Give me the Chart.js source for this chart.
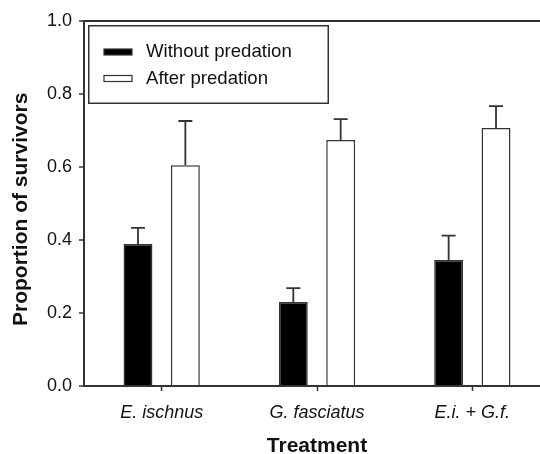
<!DOCTYPE html>
<html><head><meta charset="utf-8">
<script src="https://cdn.jsdelivr.net/npm/chart.js@4/dist/chart.umd.min.js"></script>
<style>
html,body{margin:0;padding:0;background:#fff;overflow:hidden;}
#wrap{width:540px;height:454px;overflow:hidden;position:relative;background:#fff;}
canvas{display:block;}
</style></head><body>
<div id="wrap"><canvas id="c" width="560" height="470"></canvas></div>
<script>
// ---- data ----
const categories = ['E. ischnus', 'G. fasciatus', 'E.i. + G.f.'];
const seriesNames = ['Without predation', 'After predation'];
const withoutPredation = [0.389, 0.230, 0.345];
const afterPredation = [0.605, 0.674, 0.707];
const withoutErr = [0.044, 0.038, 0.067];
const afterErr = [0.121, 0.057, 0.060];
const yTicks = [0.0, 0.2, 0.4, 0.6, 0.8, 1.0];
const xTitle = 'Treatment';
const yTitle = 'Proportion of survivors  ';

// ---- style ----
const FONT = "'Liberation Sans', Arial, Helvetica, sans-serif";
const INK = '#111';
const LINE = '#333';
const errorArrays = [withoutErr, afterErr];

const errorBars = {
  id: 'errorBars',
  afterDatasetsDraw(chart) {
    const ctx = chart.ctx, ys = chart.scales.y;
    chart.data.datasets.forEach((ds, i) => {
      const meta = chart.getDatasetMeta(i);
      meta.data.forEach((bar, j) => {
        const top = ys.getPixelForValue(ds.data[j] + errorArrays[i][j]);
        ctx.save();
        ctx.strokeStyle = LINE; ctx.lineWidth = 1.8;
        ctx.beginPath();
        ctx.moveTo(bar.x, bar.y); ctx.lineTo(bar.x, top);
        ctx.moveTo(bar.x - 7, top); ctx.lineTo(bar.x + 7, top);
        ctx.stroke();
        ctx.restore();
      });
    });
  }
};

const boxLegend = {
  id: 'boxLegend',
  afterDraw(chart) {
    const {ctx, chartArea} = chart;
    const x0 = chartArea.left + 4, y0 = chartArea.top + 4, w = 241, h = 79;
    ctx.save();
    ctx.fillStyle = '#fff'; ctx.fillRect(x0, y0, w, h);
    ctx.strokeStyle = LINE; ctx.lineWidth = 1.5;
    ctx.strokeRect(x0 + 0.75, y0 + 0.75, w - 1.5, h - 1.5);
    chart.data.datasets.forEach((ds, i) => {
      const cy = y0 + 27 + i * 26.5;
      ctx.fillStyle = ds.backgroundColor;
      ctx.fillRect(x0 + 16, cy - 3, 28, 6);
      ctx.strokeStyle = ds.borderColor; ctx.lineWidth = 1.2;
      ctx.strokeRect(x0 + 16, cy - 3, 28, 6);
      ctx.fillStyle = INK;
      ctx.font = '18.6px ' + FONT;
      ctx.textBaseline = 'middle';
      ctx.textAlign = 'left';
      ctx.fillText(ds.label, x0 + 58, cy);
    });
    ctx.restore();
  }
};

new Chart(document.getElementById('c'), {
  type: 'bar',
  data: {
    labels: categories,
    datasets: [
      {label: seriesNames[0], data: withoutPredation, backgroundColor: '#000', borderColor: LINE,
       borderWidth: 1.5, categoryPercentage: 0.61, barPercentage: 0.61},
      {label: seriesNames[1], data: afterPredation, backgroundColor: '#fff', borderColor: LINE,
       borderWidth: 1.5, categoryPercentage: 0.61, barPercentage: 0.61}
    ]
  },
  options: {
    responsive: false, animation: false, devicePixelRatio: 1,
    layout: {padding: {left: 0, right: 10, top: 21, bottom: 0}},
    plugins: {legend: {display: false}, tooltip: {enabled: false}},
    scales: {
      x: {
        grid: {display: true, drawOnChartArea: false, offset: false, tickLength: 5, tickColor: LINE, tickWidth: 1.5},
        border: {display: true, color: LINE, width: 2},
        ticks: {color: INK, font: {family: FONT, size: 18, style: 'italic'}, padding: 11, maxRotation: 0},
        title: {display: true, text: xTitle, color: INK, font: {family: FONT, size: 21, weight: 'bold'}, padding: {top: 0, bottom: 11}},
        afterFit(s) { s.height = 84; }
      },
      y: {
        min: 0, max: 1,
        afterBuildTicks(s) { s.ticks = yTicks.map(v => ({value: v})); },
        grid: {
          drawOnChartArea: true,
          color: c => (c.tick && Math.abs(c.tick.value - 1) < 1e-9) ? LINE : 'rgba(0,0,0,0)',
          lineWidth: 2, tickLength: 5, tickColor: LINE, tickWidth: 1.5
        },
        border: {display: true, color: LINE, width: 2},
        ticks: {callback: v => Number(v).toFixed(1), padding: 7, color: INK, font: {family: FONT, size: 18}},
        title: {display: true, text: yTitle, color: INK, font: {family: FONT, size: 21, weight: 'bold'}, padding: {top: 9, bottom: 0}},
        afterFit(s) { s.width = 84; }
      }
    }
  },
  plugins: [errorBars, boxLegend]
});
</script>
</body></html>
